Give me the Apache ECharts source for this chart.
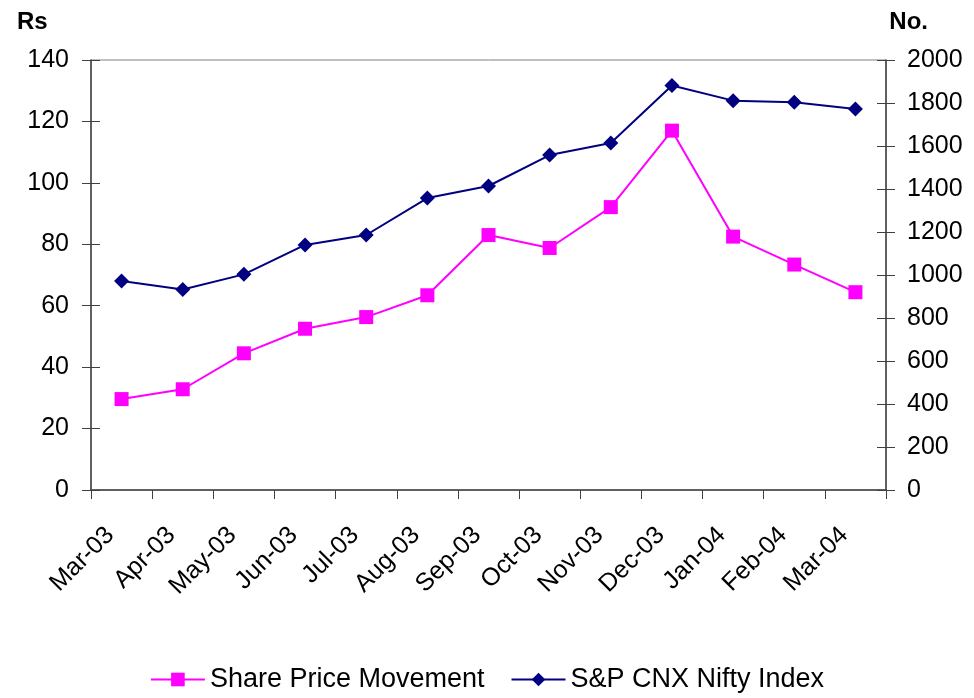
<!DOCTYPE html>
<html>
<head>
<meta charset="utf-8">
<script src="https://cdn.jsdelivr.net/npm/echarts@6/dist/echarts.min.js"></script>
<style>
  html, body { margin: 0; padding: 0; background: #fff; }
  #main { width: 974px; height: 698px; }
</style>
</head>
<body>
<div id="main"></div>
<script>
// data
const months = ['Mar-03', 'Apr-03', 'May-03', 'Jun-03', 'Jul-03', 'Aug-03', 'Sep-03',
  'Oct-03', 'Nov-03', 'Dec-03', 'Jan-04', 'Feb-04', 'Mar-04'];
const sharePrice = [29.6, 32.8, 44.5, 52.5, 56.3, 63.4, 83.0, 78.8, 92.1, 117.0, 82.5, 73.4, 64.4];
const nifty = [972, 933, 1003, 1140, 1186, 1358, 1414, 1558, 1614, 1881, 1811, 1803, 1772];

const FONT = '"Liberation Sans", Arial, sans-serif';
const axisColor = '#404040';

const myChart = echarts.init(document.getElementById('main'));

// tick axis is moved 9px into the plot and given 18px ticks so they cross the axis line
const tickAxis = (pos, max, interval) => ({
  type: 'value',
  position: pos,
  offset: -9,
  min: 0, max: max, interval: interval,
  axisLine: { show: false },
  axisTick: { show: true, length: 18, lineStyle: { color: axisColor } },
  axisLabel: {
    color: '#000', fontSize: 25, fontFamily: FONT, margin: pos === 'left' ? 31 : 30,
    formatter: (v) => String(v)
  },
  splitLine: { show: false }
});
const lineAxis = (pos, max) => ({
  type: 'value',
  position: pos,
  min: 0, max: max,
  axisLine: { show: true, lineStyle: { color: axisColor, width: 1.5 } },
  axisTick: { show: false },
  axisLabel: { show: false },
  splitLine: { show: false }
});

const option = {
  animation: false,
  backgroundColor: '#fff',
  title: [
    { text: 'Rs', left: 12, top: 5, textStyle: { fontSize: 24, fontWeight: 'bold', fontFamily: FONT, color: '#000' } },
    { text: 'No.', right: 41, top: 5, textStyle: { fontSize: 24, fontWeight: 'bold', fontFamily: FONT, color: '#000' } }
  ],
  legend: {
    top: 661,
    left: 'center',
    itemWidth: 54,
    itemHeight: 17,
    itemGap: 26,
    textStyle: { fontSize: 27, fontFamily: FONT, color: '#000' },
    data: ['Share Price Movement', 'S&P CNX Nifty Index']
  },
  grid: {
    left: 91, right: 88, top: 60, bottom: 208,
    show: true, borderColor: '#808080', borderWidth: 1
  },
  xAxis: {
    type: 'category',
    data: months,
    boundaryGap: true,
    axisLine: { lineStyle: { color: axisColor, width: 1.5 } },
    axisTick: { show: true, length: 9, lineStyle: { color: axisColor } },
    axisLabel: { rotate: 45, color: '#000', fontSize: 25, fontFamily: FONT, margin: 30, padding: [0, 16, 0, 0] }
  },
  yAxis: [
    tickAxis('left', 140, 20),
    tickAxis('right', 2000, 200),
    lineAxis('left', 140),
    lineAxis('right', 2000)
  ],
  series: [
    {
      name: 'Share Price Movement',
      type: 'line',
      yAxisIndex: 0,
      data: sharePrice,
      symbol: 'rect',
      symbolSize: 14,
      itemStyle: { color: '#ff00ff' },
      lineStyle: { color: '#ff00ff', width: 2 }
    },
    {
      name: 'S&P CNX Nifty Index',
      type: 'line',
      yAxisIndex: 1,
      data: nifty,
      symbol: 'diamond',
      symbolSize: 15,
      itemStyle: { color: '#000080' },
      lineStyle: { color: '#000080', width: 2 }
    }
  ]
};
myChart.setOption(option);
</script>
</body>
</html>
